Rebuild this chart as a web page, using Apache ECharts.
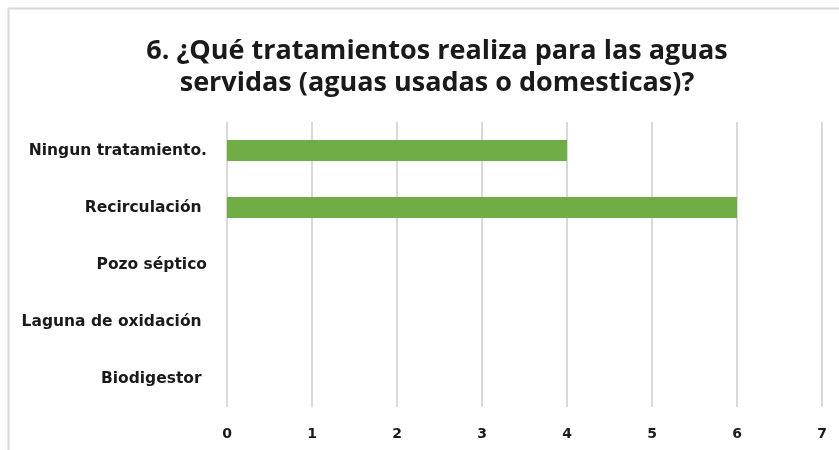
<!DOCTYPE html>
<html>
<head>
<meta charset="utf-8">
<script src="https://cdn.jsdelivr.net/npm/echarts@6/dist/echarts.min.js"></script>
<style>
  html, body { margin: 0; padding: 0; background: #fff; }
  #chart { width: 839px; height: 450px; }
</style>
</head>
<body>
<div id="chart"></div>
<script>
// datos del grafico
var categorias = ['Ningun tratamiento.', 'Recirculación ', 'Pozo séptico', 'Laguna de oxidación ', 'Biodigestor '];
var valores = [4, 6, 0, 0, 0];
var ticksX = [0, 1, 2, 3, 4, 5, 6, 7];

var myChart = echarts.init(document.getElementById('chart'));

var option = {
    color: ['#70ad47'],
    animation: false,
    title: {
        text: '6. ¿Qué tratamientos realiza para las aguas\nservidas (aguas usadas o domesticas)?',
        left: 432,
        textAlign: 'center',
        top: 30,
        textStyle: {
            fontFamily: 'Open Sans',
            fontSize: 27,
            fontWeight: 'bold',
            color: '#1a1a1a',
            lineHeight: 32
        }
    },
    graphic: [
        {
            type: 'rect',
            shape: { x: 8.5, y: 8.5, width: 900, height: 500 },
            style: { fill: 'none', stroke: '#d9d9d9', lineWidth: 2 }
        }
    ],
    grid: {
        left: 227,
        right: 17,
        top: 122,
        bottom: 43,
        containLabel: false
    },
    xAxis: {
        type: 'value',
        min: ticksX[0],
        max: ticksX[ticksX.length - 1],
        interval: 1,
        axisLine: { show: false },
        axisTick: { show: false },
        splitLine: { show: true, lineStyle: { color: '#d9d9d9', width: 2 } },
        axisLabel: {
            margin: 20,
            fontFamily: 'DejaVu Sans',
            fontSize: 14,
            fontWeight: 'bold',
            color: '#1a1a1a'
        }
    },
    yAxis: {
        type: 'category',
        inverse: true,
        data: categorias,
        axisLine: { show: false },
        axisTick: { show: false },
        splitLine: { show: false },
        axisLabel: {
            margin: 20,
            fontFamily: 'DejaVu Sans',
            fontSize: 15.5,
            fontWeight: 'bold',
            color: '#1a1a1a'
        }
    },
    series: [
        {
            type: 'bar',
            data: valores,
            barWidth: 21,
            itemStyle: { color: '#70ad47' }
        }
    ]
};

myChart.setOption(option);
</script>
</body>
</html>
